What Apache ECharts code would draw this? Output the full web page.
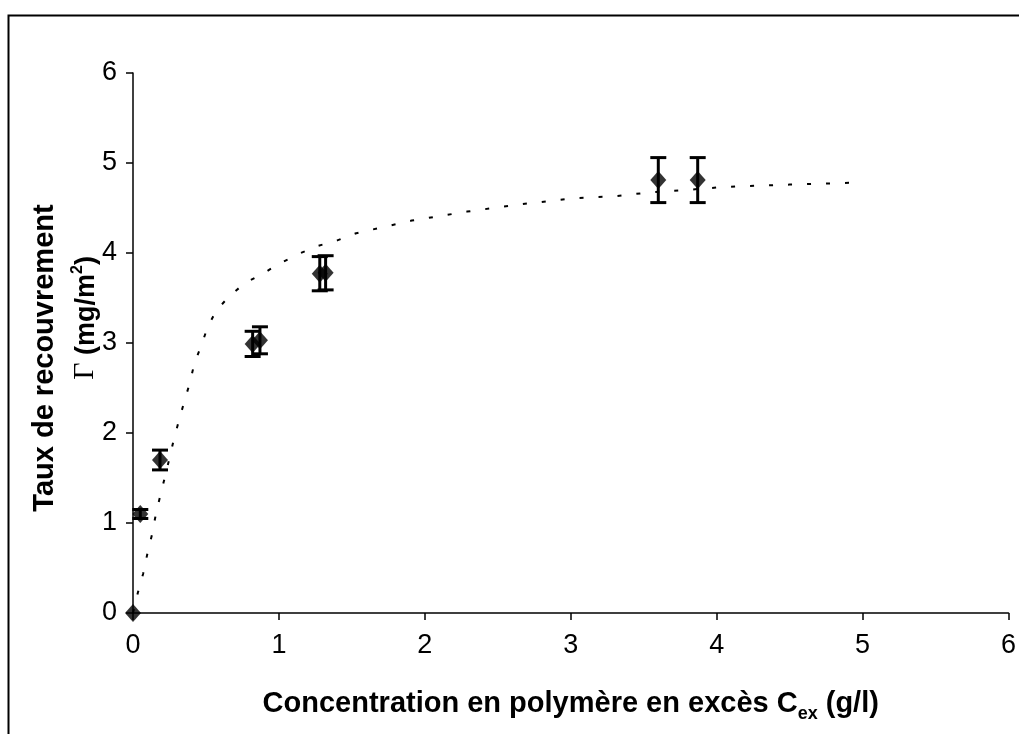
<!DOCTYPE html>
<html>
<head>
<meta charset="utf-8">
<script src="https://cdn.jsdelivr.net/npm/echarts@6/dist/echarts.min.js"></script>
<style>
html,body{margin:0;padding:0;background:#fff;}
#c{width:1019px;height:734px;}
</style>
</head>
<body>
<div id="c"></div>
<script>
// Measured points (C_ex in g/l, Gamma in mg/m2) and error half-widths
const pointsX = [0, 0.05, 0.185, 0.82, 0.87, 1.28, 1.32, 3.60, 3.87];
const pointsY = [0, 1.10, 1.70, 2.99, 3.03, 3.77, 3.78, 4.81, 4.81];
const errY    = [0, 0.05, 0.11, 0.14, 0.15, 0.19, 0.19, 0.25, 0.25];

// Dotted fitted curve
const fitX = [0, 0.034, 0.07, 0.10, 0.13, 0.157, 0.185, 0.22, 0.25, 0.28, 0.315, 0.35, 0.39, 0.42, 0.47, 0.51, 0.57, 0.66, 0.77, 0.88, 1.00, 1.15, 1.27, 1.40, 1.53, 1.91, 2.29, 2.65, 3.03, 3.30, 3.52, 3.79, 4.02, 4.15, 4.50, 4.92];
const fitY = [0, 0.23, 0.44, 0.67, 0.87, 1.10, 1.29, 1.52, 1.72, 1.93, 2.14, 2.34, 2.56, 2.77, 2.98, 3.17, 3.36, 3.52, 3.67, 3.76, 3.88, 4.00, 4.08, 4.14, 4.22, 4.36, 4.46, 4.54, 4.61, 4.63, 4.67, 4.70, 4.73, 4.74, 4.76, 4.78];

const xTicks = [0, 1, 2, 3, 4, 5, 6];
const yTicks = [0, 1, 2, 3, 4, 5, 6];

const FONT = '"Liberation Sans", Arial, sans-serif';

const scatterData = pointsX.map((x, i) => [x, pointsY[i]]);
const errData = pointsX.map((x, i) => [x, pointsY[i] - errY[i], pointsY[i] + errY[i]]).filter((d, i) => errY[i] > 0);
const fitData = fitX.map((x, i) => [x, fitY[i]]);

const chart = echarts.init(document.getElementById('c'), null, {renderer: 'canvas'});
chart.setOption({
  backgroundColor: '#fff',
  animation: false,
  grid: {left: 133, right: 9, top: 73, bottom: 121, containLabel: false},
  xAxis: {
    type: 'value', min: 0, max: 6, interval: 1,
    axisLine: {show: true, lineStyle: {color: '#000', width: 1.5}},
    axisTick: {show: true, inside: false, length: 7, lineStyle: {color: '#000', width: 1.5}},
    splitLine: {show: false},
    axisLabel: {color: '#000', fontSize: 27, fontFamily: FONT, margin: 19,
      formatter: v => xTicks.includes(v) ? String(v) : ''},
    name: '{t|Concentration en polymère en excès C}{sub|ex}{t| (g/l)}',
    nameLocation: 'middle', nameGap: 76,
    nameTextStyle: {
      rich: {
        t: {fontSize: 29, fontWeight: 'bold', fontFamily: FONT, color: '#000', verticalAlign: 'bottom'},
        sub: {fontSize: 18, fontWeight: 'bold', fontFamily: FONT, color: '#000', verticalAlign: 'bottom', padding: [0, 0, -5, 0]}
      }
    }
  },
  yAxis: {
    type: 'value', min: 0, max: 6, interval: 1,
    axisLine: {show: true, lineStyle: {color: '#000', width: 1.5}},
    axisTick: {show: true, inside: false, length: 7, lineStyle: {color: '#000', width: 1.5}},
    splitLine: {show: false},
    axisLabel: {color: '#000', fontSize: 27, fontFamily: FONT, margin: 16,
      formatter: v => yTicks.includes(v) ? String(v) : ''}
  },
  graphic: [
    {type: 'rect', left: 6, top: 13, shape: {width: 1200, height: 1000}, style: {fill: 'none', stroke: '#000', lineWidth: 2}, silent: true, z: 100},
    {type: 'text', x: 45, y: 358, rotation: Math.PI / 2,
      style: {text: 'Taux de recouvrement', font: 'bold 29px ' + FONT, fill: '#000', align: 'center', verticalAlign: 'middle'}},
    {type: 'text', x: 85, y: 318, rotation: Math.PI / 2,
      style: {
        text: '{g|Γ}{t| (mg/m}{sup|2}{t|)}',
        align: 'center', verticalAlign: 'middle',
        rich: {
          g: {font: '30px "Liberation Serif", "DejaVu Serif", serif', fill: '#000', verticalAlign: 'bottom'},
          t: {font: 'bold 27px ' + FONT, fill: '#000', verticalAlign: 'bottom'},
          sup: {font: 'bold 16px ' + FONT, fill: '#000', verticalAlign: 'top', padding: [0, 0, 10, 0]}
        }
      }}
  ],
  series: [
    {
      type: 'line', data: fitData, showSymbol: false, smooth: false,
      lineStyle: {color: '#000', width: 2, type: [4, 15]}, z: 1
    },
    {
      type: 'custom', z: 3,
      renderItem: function (params, api) {
        const x = api.value(0);
        const lo = api.coord([x, api.value(1)]);
        const hi = api.coord([x, api.value(2)]);
        const cw = 8;
        const st = {stroke: '#000', lineWidth: 3};
        return {type: 'group', children: [
          {type: 'line', shape: {x1: lo[0], y1: lo[1], x2: hi[0], y2: hi[1]}, style: st},
          {type: 'line', shape: {x1: lo[0] - cw, y1: lo[1], x2: lo[0] + cw, y2: lo[1]}, style: st},
          {type: 'line', shape: {x1: hi[0] - cw, y1: hi[1], x2: hi[0] + cw, y2: hi[1]}, style: st}
        ]};
      },
      data: errData
    },
    {
      type: 'scatter', data: scatterData, symbol: 'diamond', symbolSize: [16, 18],
      itemStyle: {color: '#000'}, z: 4
    }
  ]
});
</script>
</body>
</html>
